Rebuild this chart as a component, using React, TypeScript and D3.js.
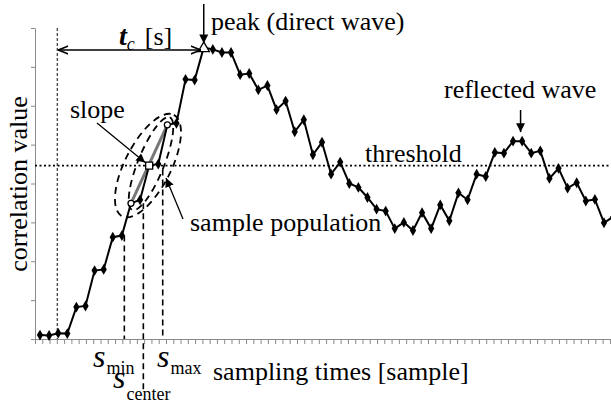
import { useRef, useEffect } from 'react';
import * as d3 from 'd3';

// correlation value per sample (arbitrary units, axis ticks 0..8)
const correlation = [
  0.1, 0.09, 0.15, 0.14, 0.82, 0.85, 1.76, 1.79, 2.62, 2.66, 3.49, 3.58, 4.46, 4.5, 5.51, 5.55,
  6.68, 6.66, 7.5, 7.45, 7.37, 7.37, 6.8, 6.83, 6.41, 6.52, 5.9, 6.12, 5.33, 5.64, 4.74, 5.06,
  4.24, 4.55, 4.0, 3.9, 3.64, 3.34, 3.29, 2.84, 3.0, 2.79, 3.25, 2.84, 3.45, 3.04, 3.76, 3.58,
  4.24, 4.18, 4.8, 4.78, 5.09, 5.09, 4.78, 4.84, 4.13, 4.39, 3.88, 4.02, 3.55, 3.59, 2.99, 3.14,
];
const samples = d3.range(correlation.length);

const yTicks = [0, 1, 2, 3, 4, 5, 6, 7, 8];
const xDomain = [-0.55, 62.77];
const xTickStep = 0.8;

const threshold = 4.46;
const onsetSample = 1.9;
const peakSample = 18;
const reflectedSample = 52.5;
const slopeFrom = 10;
const slopeCenter = 12;
const slopeTo = 14;
const sMin = 9.27;
const sCenter = 11.36;
const sMax = 13.49;

const W = 611;
const H = 404;
const FONT = "'Liberation Serif', 'Times New Roman', serif";

export default function App() {
  const svgRef = useRef<SVGSVGElement>(null);

  useEffect(() => {
    if (!svgRef.current) return;
    const svg = d3.select(svgRef.current);
    svg.selectAll('*').remove();

    const x = d3.scaleLinear().domain(xDomain).range([35, 611]);
    const y = d3.scaleLinear().domain([0, 8]).range([339, 28]);

    const defs = svg.append('defs');
    defs
      .append('marker')
      .attr('id', 'head')
      .attr('viewBox', '0 0 10 10')
      .attr('refX', 10)
      .attr('refY', 5)
      .attr('markerWidth', 9)
      .attr('markerHeight', 9)
      .attr('markerUnits', 'userSpaceOnUse')
      .attr('orient', 'auto-start-reverse')
      .append('path')
      .attr('d', 'M0,0 L10,5 L0,10 z')
      .attr('fill', '#000');
    defs
      .append('marker')
      .attr('id', 'open')
      .attr('viewBox', '0 0 10 10')
      .attr('refX', 10)
      .attr('refY', 5)
      .attr('markerWidth', 10)
      .attr('markerHeight', 10)
      .attr('markerUnits', 'userSpaceOnUse')
      .attr('orient', 'auto-start-reverse')
      .append('path')
      .attr('d', 'M0,1 L10,5 L0,9')
      .attr('fill', 'none')
      .attr('stroke', '#000')
      .attr('stroke-width', 1.5);

    // axes
    const xAxis = svg
      .append('g')
      .attr('transform', `translate(0,${y(0)})`)
      .call(
        d3
          .axisBottom(x)
          .tickValues(d3.range(xDomain[0], xDomain[1], xTickStep))
          .tickFormat(() => '')
          .tickSize(5)
          .tickSizeOuter(0)
      );
    xAxis.selectAll('line, path').attr('stroke', '#8a8a8a');

    const yAxis = svg
      .append('g')
      .attr('transform', `translate(${x(xDomain[0])},0)`)
      .call(d3.axisLeft(y).tickValues(yTicks).tickFormat(() => '').tickSize(4).tickSizeOuter(0));
    yAxis.selectAll('line, path').attr('stroke', '#8a8a8a');

    // threshold + onset
    svg
      .append('line')
      .attr('x1', x(xDomain[0]))
      .attr('x2', x(xDomain[1]))
      .attr('y1', y(threshold))
      .attr('y2', y(threshold))
      .attr('stroke', '#000')
      .attr('stroke-width', 1.8)
      .attr('stroke-dasharray', '2,2.5');

    svg
      .append('line')
      .attr('x1', x(onsetSample))
      .attr('x2', x(onsetSample))
      .attr('y1', y(8))
      .attr('y2', y(0))
      .attr('stroke', '#333')
      .attr('stroke-width', 1.2)
      .attr('stroke-dasharray', '3,2');

    // s_min / s_center / s_max guides
    const guides = [
      { s: sMin, top: correlation[9], bottom: y(0) },
      { s: sCenter, top: correlation[slopeFrom], bottom: 390 },
      { s: sMax, top: correlation[slopeCenter] - 0.1, bottom: y(0) },
    ];
    svg
      .selectAll('.guide')
      .data(guides)
      .join('line')
      .attr('x1', (d) => x(d.s))
      .attr('x2', (d) => x(d.s))
      .attr('y1', (d) => y(d.top))
      .attr('y2', (d) => d.bottom)
      .attr('stroke', '#000')
      .attr('stroke-width', 1.6)
      .attr('stroke-dasharray', '6,4');

    // sample population ellipses
    const cx = x(11.87);
    const cy = y(threshold);
    const ellipses = [
      { rx: 57, ry: 23, angle: -63, dx: 0, dy: 0 },
      { rx: 50, ry: 13, angle: -68, dx: 3, dy: -2 },
    ];
    svg
      .selectAll('.ell')
      .data(ellipses)
      .join('ellipse')
      .attr('cx', 0)
      .attr('cy', 0)
      .attr('rx', (d) => d.rx)
      .attr('ry', (d) => d.ry)
      .attr('transform', (d) => `translate(${cx + d.dx},${cy + d.dy}) rotate(${d.angle})`)
      .attr('fill', 'none')
      .attr('stroke', '#000')
      .attr('stroke-width', 1.8)
      .attr('stroke-dasharray', '7,5');

    // slope line
    svg
      .append('line')
      .attr('x1', x(slopeFrom))
      .attr('y1', y(correlation[slopeFrom]))
      .attr('x2', x(slopeTo))
      .attr('y2', y(correlation[slopeTo]))
      .attr('stroke', '#777')
      .attr('stroke-width', 3);

    // data line
    const line = d3
      .line<number>()
      .x((i) => x(i))
      .y((i) => y(correlation[i]));
    svg
      .append('path')
      .datum(samples)
      .attr('d', line)
      .attr('fill', 'none')
      .attr('stroke', '#000')
      .attr('stroke-width', 2);

    const special = [slopeFrom, slopeCenter, slopeTo, peakSample];
    svg
      .selectAll('.pt')
      .data(samples.filter((i) => !special.includes(i)))
      .join('path')
      .attr('d', d3.symbol(d3.symbolDiamond, 34))
      .attr('transform', (i) => `translate(${x(i)},${y(correlation[i])})`)
      .attr('fill', '#000');

    svg
      .selectAll('.circ')
      .data([slopeFrom, slopeTo])
      .join('circle')
      .attr('cx', (i) => x(i))
      .attr('cy', (i) => y(correlation[i]))
      .attr('r', 3)
      .attr('fill', '#fff')
      .attr('stroke', '#000')
      .attr('stroke-width', 1.3);

    svg
      .append('rect')
      .attr('x', x(slopeCenter) - 3.5)
      .attr('y', y(correlation[slopeCenter]) - 3.5)
      .attr('width', 7)
      .attr('height', 7)
      .attr('fill', '#fff')
      .attr('stroke', '#000')
      .attr('stroke-width', 1.3);

    svg
      .append('path')
      .attr('d', d3.symbol(d3.symbolTriangle, 55))
      .attr('transform', `translate(${x(peakSample)},${y(correlation[peakSample]) + 1})`)
      .attr('fill', '#fff')
      .attr('stroke', '#000')
      .attr('stroke-width', 1.3);

    // arrows
    const arrow = (x1: number, y1: number, x2: number, y2: number, w = 1.3) =>
      svg
        .append('line')
        .attr('x1', x1)
        .attr('y1', y1)
        .attr('x2', x2)
        .attr('y2', y2)
        .attr('stroke', '#000')
        .attr('stroke-width', w)
        .attr('marker-end', 'url(#head)');

    const px = x(peakSample);
    const py = y(correlation[peakSample]);
    arrow(px, 4, px, py - 4, 1.5);
    arrow(x(reflectedSample) + 3, 110, x(reflectedSample) + 3, y(correlation[52]) - 9, 1.5);
    arrow(97, 123, x(slopeCenter) - 4, y(correlation[slopeCenter]) - 3);
    arrow(183, 219, 166, 178);

    svg
      .append('line')
      .attr('x1', x(onsetSample) + 1)
      .attr('x2', px - 3)
      .attr('y1', 50)
      .attr('y2', 50)
      .attr('stroke', '#000')
      .attr('stroke-width', 1.5)
      .attr('marker-start', 'url(#open)')
      .attr('marker-end', 'url(#open)');

    // labels
    const text = (tx: number, ty: number, str: string, size = 26) =>
      svg
        .append('text')
        .attr('x', tx)
        .attr('y', ty)
        .style('font-family', FONT)
        .attr('font-size', size)
        .attr('fill', '#000')
        .text(str);

    text(211, 30, 'peak (direct wave)');
    text(444, 98, 'reflected wave');
    text(365, 162, 'threshold');
    text(70, 118, 'slope');
    text(190, 231, 'sample population');
    text(213, 380, 'sampling times [sample]');

    svg
      .append('text')
      .attr('transform', `translate(27,184) rotate(-90)`)
      .attr('text-anchor', 'middle')
      .style('font-family', FONT)
      .attr('font-size', 26)
      .text('correlation value');

    // t_c [s]
    const tc = svg.append('text').style('font-family', FONT).attr('x', 119).attr('y', 45);
    tc.append('tspan').attr('font-size', 28).attr('font-style', 'italic').attr('font-weight', 'bold').text('t');
    tc.append('tspan').attr('font-size', 18).attr('font-style', 'italic').attr('dy', 5).text('c');
    tc.append('tspan').attr('font-size', 26).attr('dy', -5).attr('dx', 10).text('[s]');

    const sLabel = (lx: number, ly: number, sub: string, subDy: number) => {
      const t = svg.append('text').style('font-family', FONT).attr('x', lx).attr('y', ly);
      t.append('tspan').attr('font-size', 32).attr('font-style', 'italic').text('s');
      t.append('tspan').attr('font-size', 18).attr('dy', subDy).attr('dx', 1).text(sub);
    };
    sLabel(93, 367, 'min', 7);
    sLabel(157, 367, 'max', 7);
    sLabel(113, 388, 'center', 12);
  }, []);

  return (
    <svg
      ref={svgRef}
      width={W}
      height={H}
      style={{ position: 'absolute', left: 0, top: 0, background: '#fff' }}
    />
  );
}
